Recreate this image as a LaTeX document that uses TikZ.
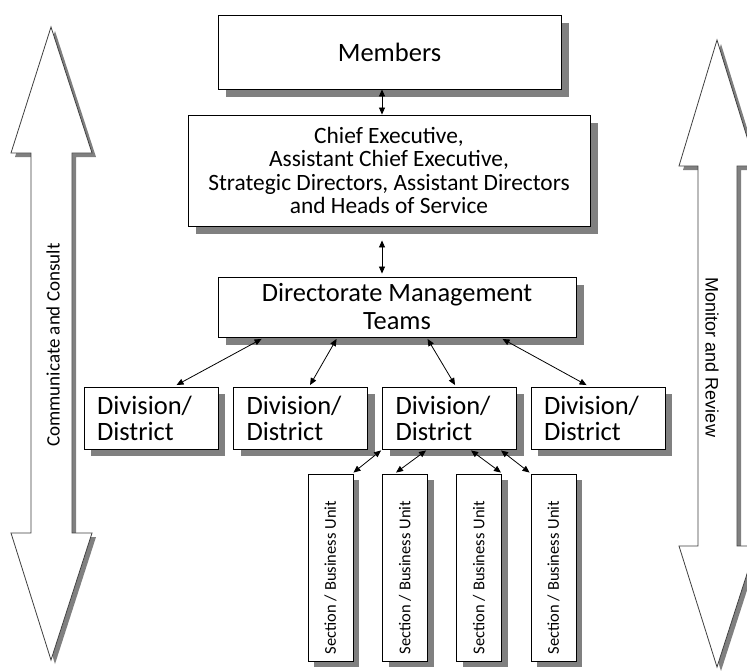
\documentclass[tikz,border=0pt]{standalone}
\usepackage{fontspec}
\setmainfont{Carlito}
\newfontfamily\arialf{Liberation Sans}
\usetikzlibrary{arrows.meta,shadows}
\begin{document}
\begin{tikzpicture}[x=1pt,y=-1pt,
  >={Triangle[length=7pt,width=6pt]},
  shad/.style={drop shadow={shadow xshift=#1, shadow yshift=-#1, fill=black!50, opacity=1}},
  box/.style={draw=black, line width=0.9pt, fill=white, inner sep=0pt, align=center},
  divbox/.style={box, minimum width=134pt, minimum height=62pt, text width=108pt, inner xsep=13pt, align=left,
     font=\fontsize{26.5}{26}\selectfont, shad=7pt},
  secbox/.style={box, minimum width=45pt, minimum height=187pt, font=\fontsize{16.5}{18}\selectfont, shad=6pt},
  conn/.style={<->, line width=0.8pt},
  bigarrow/.style={fill=white, draw=black!75, line width=0.8pt},
  bigshadow/.style={fill=black!50}]
\useasboundingbox (0,0) rectangle (747,670);
\fill[white] (0,0) rectangle (747,670);

% side arrows
\fill[bigshadow, shift={(4pt,-4pt)}] (51,27) -- (92,153) -- (72,153) -- (72,533) -- (92,533) -- (51,660) -- (11,533) -- (31,533) -- (31,153) -- (11,153) -- cycle;
\path[bigarrow] (51,27) -- (92,153) -- (72,153) -- (72,533) -- (92,533) -- (51,660) -- (11,533) -- (31,533) -- (31,153) -- (11,153) -- cycle;
\fill[bigshadow, shift={(4pt,-4pt)}] (717,40) -- (756,166) -- (737,166) -- (737,546) -- (756,546) -- (717,667) -- (679,546) -- (698,546) -- (698,166) -- (679,166) -- cycle;
\path[bigarrow] (717,40) -- (756,166) -- (737,166) -- (737,546) -- (756,546) -- (717,667) -- (679,546) -- (698,546) -- (698,166) -- (679,166) -- cycle;
\node[rotate=90, font=\fontsize{19}{22}\selectfont, inner sep=0pt] (cc) at (53,345) {Communicate and Consult};
\node[rotate=-90, font=\arialf\fontsize{18}{21}\selectfont, inner sep=0pt] (mr) at (712,357.5) {Monitor and Review};

% boxes
\node[box, minimum width=343pt, minimum height=74pt, font=\fontsize{26.5}{30}\selectfont, shad=8pt] (members) at (389.5,52) {Members};
\node[box, minimum width=402pt, minimum height=111pt, font=\fontsize{23.4}{23.3}\selectfont, shad=8pt] (chief) at (389,170.5)
  {Chief Executive,\\Assistant Chief Executive,\\Strategic Directors, Assistant Directors\\and Heads of Service};
\node[box, minimum width=358pt, minimum height=60pt, font=\fontsize{26.4}{28}\selectfont, shad=8pt] (directorate) at (397,307)
  {Directorate Management\\Teams};

\node[divbox] (div1) at (151,418) {Division/\\District};
\node[divbox] (div2) at (300.5,418) {Division/\\District};
\node[divbox] (div3) at (449.5,418) {Division/\\District};
\node[divbox] (div4) at (598,418) {Division/\\District};

\node[secbox] (sec1) at (330.5,567.5) {\rotatebox{90}{Section / Business Unit\hspace*{20pt}}};
\node[secbox] (sec2) at (405,567.5) {\rotatebox{90}{Section / Business Unit\hspace*{20pt}}};
\node[secbox] (sec3) at (479,567.5) {\rotatebox{90}{Section / Business Unit\hspace*{20pt}}};
\node[secbox] (sec4) at (553.5,567.5) {\rotatebox{90}{Section / Business Unit\hspace*{20pt}}};

% connectors
\draw[conn] ([xshift=-7.5pt]members.south) -- ([xshift=-7pt]chief.north);
\draw[conn, shorten <=14pt, shorten >=3pt] ([xshift=-7pt]chief.south) -- ([xshift=-15pt]directorate.north);

\draw[conn] ([xshift=44pt,yshift=-1.5pt]directorate.south west) -- ([xshift=93pt,yshift=1.5pt]div1.north west);
\draw[conn] ([xshift=119pt,yshift=-1.5pt]directorate.south west) -- ([xshift=77pt,yshift=1.5pt]div2.north west);
\draw[conn] ([xshift=210pt,yshift=-1.5pt]directorate.south west) -- ([xshift=73pt,yshift=1.5pt]div3.north west);
\draw[conn] ([xshift=285pt,yshift=-1.5pt]directorate.south west) -- ([xshift=56pt,yshift=1.5pt]div4.north west);

\draw[conn] ([xshift=-1pt,yshift=-1pt]div3.south west) -- ([yshift=1pt]sec1.north east);
\draw[conn] ([xshift=44pt,yshift=-1pt]div3.south west) -- ([xshift=14pt,yshift=1pt]sec2.north west);
\draw[conn] ([xshift=89pt,yshift=-1pt]div3.south west) -- ([xshift=-1pt,yshift=1pt]sec3.north east);
\draw[conn] ([xshift=119pt,yshift=-1pt]div3.south west) -- ([xshift=-1pt,yshift=1pt]sec4.north west);
\end{tikzpicture}
\end{document}
